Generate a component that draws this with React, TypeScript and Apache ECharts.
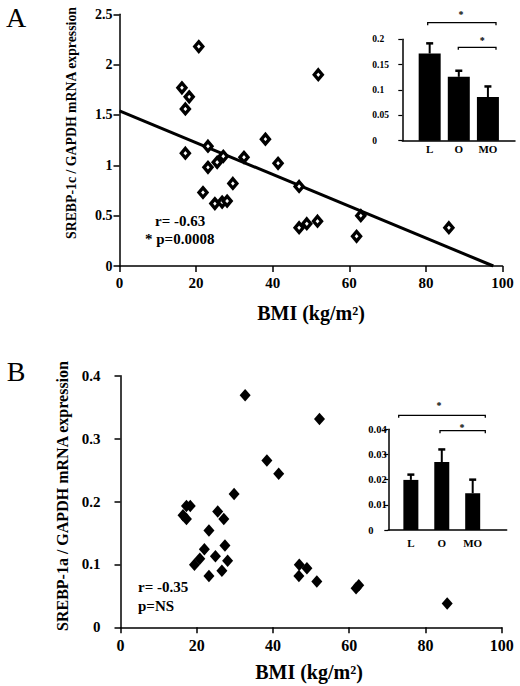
import React, { useEffect, useRef } from "react";
import * as echarts from "echarts";

// Panel A: SREBP-1c vs BMI
const bmiA = [20.7, 16.3, 18.2, 17.2, 17.2, 51.9, 23.1, 23.1, 25.5, 27.1, 32.5, 38.1, 41.4, 29.6, 21.8, 24.9, 26.8, 28.1, 46.9, 46.9, 48.9, 51.7, 61.9, 63.0, 86.0];
const srebp1c = [2.18, 1.77, 1.68, 1.56, 1.12, 1.9, 1.19, 0.98, 1.03, 1.09, 1.08, 1.26, 1.02, 0.82, 0.73, 0.62, 0.635, 0.645, 0.79, 0.38, 0.42, 0.445, 0.295, 0.5, 0.38];
const regBMI = [0, 97.6];
const regFit = [1.54, 0];

// Panel B: SREBP-1a vs BMI
const bmiB = [32.7, 52.2, 38.4, 41.5, 29.8, 17.3, 18.3, 16.4, 17.3, 25.5, 27.1, 23.2, 22.0, 27.4, 24.9, 20.8, 19.4, 28.1, 26.6, 23.2, 46.9, 48.9, 46.8, 51.5, 61.8, 62.5, 85.7];
const srebp1a = [0.369, 0.331, 0.265, 0.244, 0.212, 0.193, 0.193, 0.178, 0.172, 0.184, 0.172, 0.154, 0.124, 0.13, 0.113, 0.109, 0.0996, 0.106, 0.09, 0.0816, 0.0996, 0.094, 0.0816, 0.073, 0.062, 0.067, 0.038];

// Insets
const groups = ["L", "O", "MO"];
const meanA = [0.172, 0.126, 0.086];
const upperA = [0.192, 0.138, 0.107];
const meanB = [0.0199, 0.027, 0.0146];
const upperB = [0.022, 0.032, 0.02];

const FONT = "'Liberation Serif', 'Times New Roman', serif";

function errRender(params: any, api: any) {
  const x = api.value(0);
  const m = api.value(1);
  const u = api.value(2);
  const p0 = api.coord([x, m]);
  const p1 = api.coord([x, u]);
  return {
    type: "group",
    children: [
      { type: "line", shape: { x1: p0[0], y1: p0[1], x2: p1[0], y2: p1[1] }, style: { stroke: "#000", lineWidth: 2 } },
      { type: "line", shape: { x1: p1[0] - 3.5, y1: p1[1], x2: p1[0] + 3.5, y2: p1[1] }, style: { stroke: "#000", lineWidth: 2.5 } },
    ],
  };
}

function mainX(grid: number, size: number, margin: number) {
  return {
    type: "value",
    gridIndex: grid,
    min: 0,
    max: 100,
    interval: 20,
    axisLine: { lineStyle: { color: "#000", width: 1.5 } },
    axisTick: { show: true, inside: false, length: 6, lineStyle: { color: "#000", width: 1.5 } },
    axisLabel: { color: "#000", fontFamily: FONT, fontWeight: "bold", fontSize: size, margin },
    splitLine: { show: false },
  };
}

function mainY(grid: number, max: number, interval: number, size: number, margin: number) {
  return {
    type: "value",
    gridIndex: grid,
    min: 0,
    max,
    interval,
    axisLine: { show: true, lineStyle: { color: "#000", width: 1.5 } },
    axisTick: { show: true, inside: false, length: 6, lineStyle: { color: "#000", width: 1.5 } },
    axisLabel: { color: "#000", fontFamily: FONT, fontWeight: "bold", fontSize: size, margin },
    splitLine: { show: false },
  };
}

function insetX(grid: number, min: number, max: number, margin: number) {
  return {
    type: "value",
    gridIndex: grid,
    min,
    max,
    axisLine: { lineStyle: { color: "#000", width: 1.5 } },
    axisTick: { show: false },
    axisLabel: {
      customValues: [1, 2, 3],
      formatter: (v: number) => groups[Math.round(v) - 1] ?? "",
      color: "#000",
      fontFamily: FONT,
      fontWeight: "bold",
      fontSize: 11,
      margin,
    },
    splitLine: { show: false },
  };
}

function insetY(grid: number, max: number, interval: number, size: number, margin: number) {
  return {
    type: "value",
    gridIndex: grid,
    min: 0,
    max,
    interval,
    axisLine: { show: true, lineStyle: { color: "#000", width: 1.5 } },
    axisTick: { show: true, inside: false, length: 4, lineStyle: { color: "#000", width: 1.2 } },
    axisLabel: { color: "#000", fontFamily: FONT, fontWeight: "bold", fontSize: size, margin, align: "left" },
    splitLine: { show: false },
  };
}

function txt(x: number, y: number, text: string, size: number, opts: any = {}) {
  return {
    type: "text",
    x,
    y,
    rotation: opts.rotation ?? 0,
    style: {
      text,
      fill: "#000",
      fontFamily: FONT,
      fontWeight: opts.weight ?? "bold",
      fontSize: size,
      align: opts.align ?? "center",
      verticalAlign: "middle",
    },
  };
}

function bracket(x1: number, x2: number, y: number) {
  return {
    type: "polyline",
    shape: { points: [[x1, y + 2.5], [x1, y], [x2, y], [x2, y + 2.5]] },
    style: { stroke: "#000", lineWidth: 1.3, fill: null },
  };
}

export default function App() {
  const ref = useRef<HTMLDivElement>(null);
  useEffect(() => {
    if (!ref.current) return;
    const chart = echarts.init(ref.current, null, { renderer: "svg" });
    const option: any = {
      animation: false,
      backgroundColor: "#fff",
      grid: [
        { left: 119.5, top: 14.3, width: 383, height: 251.7 },
        { left: 120.5, top: 375.7, width: 381.2, height: 251.6 },
        { left: 402.3, top: 39.3, width: 112.7, height: 101.4 },
        { left: 388.3, top: 429.3, width: 118.4, height: 100.7 },
      ],
      xAxis: [mainX(0, 15, 9), mainX(1, 16, 10.5), insetX(2, 0.06, 3.93, 2.5), insetX(3, 0.27, 4.1, 7)],
      yAxis: [
        mainY(0, 2.5, 0.5, 14, 7),
        mainY(1, 0.4, 0.1, 15, 20),
        insetY(2, 0.2, 0.05, 9.5, 30),
        insetY(3, 0.04, 0.01, 10.5, 20),
      ],
      series: [
        {
          type: "line",
          xAxisIndex: 0,
          yAxisIndex: 0,
          data: regBMI.map((b, i) => [b, regFit[i]]),
          symbol: "none",
          lineStyle: { color: "#000", width: 3 },
          z: 2,
        },
        {
          type: "scatter",
          xAxisIndex: 0,
          yAxisIndex: 0,
          data: bmiA.map((b, i) => [b, srebp1c[i]]),
          symbol: "diamond",
          symbolSize: [8, 9.5],
          itemStyle: { color: "#fff", borderColor: "#000", borderWidth: 3.4, opacity: 1 },
          z: 3,
        },
        {
          type: "scatter",
          xAxisIndex: 1,
          yAxisIndex: 1,
          data: bmiB.map((b, i) => [b, srebp1a[i]]),
          symbol: "diamond",
          symbolSize: [11, 12.5],
          itemStyle: { color: "#000", opacity: 1 },
          z: 3,
        },
        {
          type: "bar",
          xAxisIndex: 2,
          yAxisIndex: 2,
          data: meanA.map((m, i) => [i + 1, m]),
          barWidth: 22,
          itemStyle: { color: "#000" },
        },
        {
          type: "custom",
          xAxisIndex: 2,
          yAxisIndex: 2,
          data: meanA.map((m, i) => [i + 1, m, upperA[i]]),
          renderItem: errRender,
          z: 4,
        },
        {
          type: "bar",
          xAxisIndex: 3,
          yAxisIndex: 3,
          data: meanB.map((m, i) => [i + 1, m]),
          barWidth: 15,
          itemStyle: { color: "#000" },
        },
        {
          type: "custom",
          xAxisIndex: 3,
          yAxisIndex: 3,
          data: meanB.map((m, i) => [i + 1, m, upperB[i]]),
          renderItem: errRender,
          z: 4,
        },
      ],
      graphic: [
        txt(16, 17, "A", 28, { weight: "normal" }),
        txt(16, 371, "B", 28, { weight: "normal" }),
        txt(71, 123, "SREBP-1c / GAPDH mRNA expression", 13.8, { rotation: Math.PI / 2 }),
        txt(62, 496, "SREBP-1a / GAPDH mRNA expression", 16, { rotation: Math.PI / 2 }),
        txt(311, 313, "BMI (kg/m²)", 20),
        txt(309, 672, "BMI (kg/m²)", 20),
        txt(155, 221, "r= -0.63", 15, { align: "left" }),
        txt(145, 239, "* p=0.0008", 15, { align: "left" }),
        txt(138, 587, "r= -0.35", 15, { align: "left" }),
        txt(138, 606, "p=NS", 15, { align: "left" }),
        bracket(427.7, 496, 22.7),
        txt(461, 14, "*", 10),
        bracket(458.3, 496, 47.3),
        txt(482.3, 40.5, "*", 10),
        bracket(398.7, 485.3, 415.3),
        txt(439, 405, "*", 10),
        bracket(440, 485.3, 430.7),
        txt(462, 427, "*", 10),
      ],
    };
    chart.setOption(option);
    return () => chart.dispose();
  }, []);
  return <div ref={ref} style={{ position: "absolute", left: 0, top: 0, width: 520, height: 686 }} />;
}
